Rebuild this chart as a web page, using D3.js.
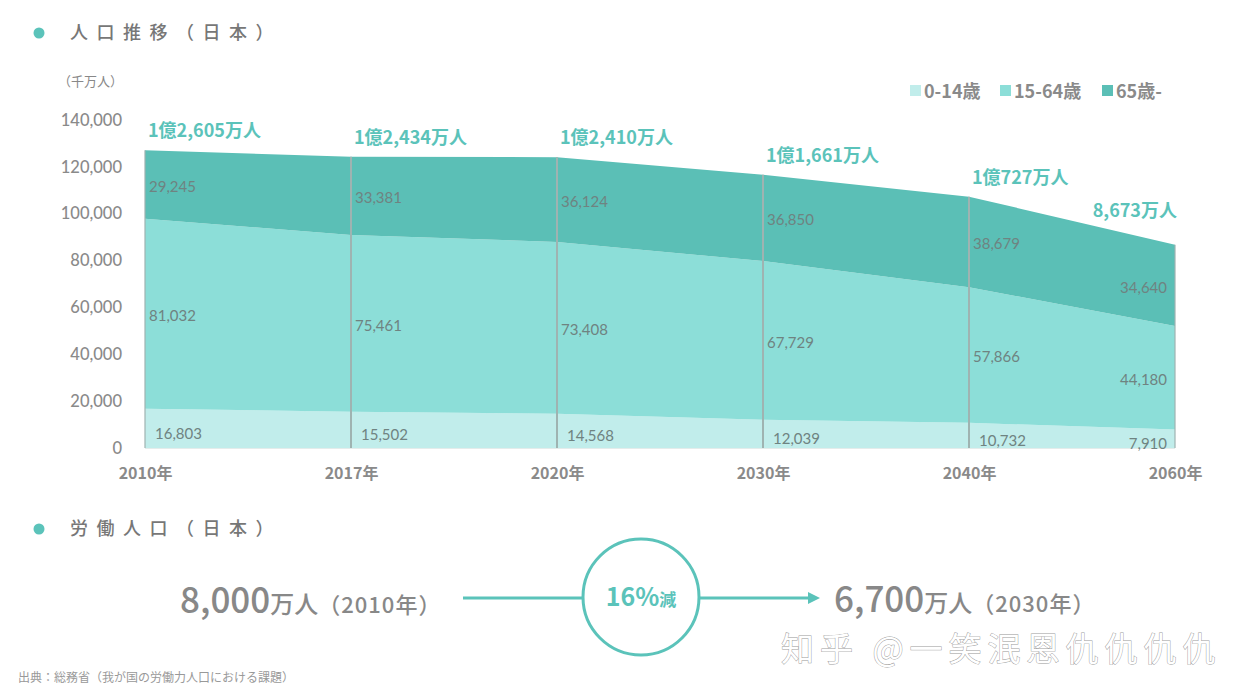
<!DOCTYPE html>
<html><head><meta charset="utf-8">
<script src="https://cdn.jsdelivr.net/npm/d3@7"></script>
<style>
body{margin:0;background:#fff;}
text{font-family:"Noto Sans CJK JP","Noto Sans",sans-serif;}
</style></head>
<body><svg id="c" width="1252" height="693"></svg>
<script>
const years = ["2010年","2017年","2020年","2030年","2040年","2060年"];
const age0_14 = [16803,15502,14568,12039,10732,7910];
const age15_64 = [81032,75461,73408,67729,57866,44180];
const age65 = [29245,33381,36124,36850,38679,34640];
const totalLabels = ["1億2,605万人","1億2,434万人","1億2,410万人","1億1,661万人","1億727万人","8,673万人"];
const seriesNames = ["0-14歳","15-64歳","65歳-"];
const yTicks = [0,20000,40000,60000,80000,100000,120000,140000];
const colors = ["#c1edeb","#8cded8","#5bbfb6"];
const teal = "#5bc3ba";

const svg = d3.select("#c");
const x = d3.scalePoint().domain(years).range([145,1175]);
const y = d3.scaleLinear().domain([0,140000]).range([448,120]);

const rows = years.map((yr,i)=>({year:yr,a:age0_14[i],b:age15_64[i],c:age65[i]}));
const stack = d3.stack().keys(["a","b","c"])(rows);

function header(ty, label){
  svg.append("circle").attr("cx",39).attr("cy",ty).attr("r",5.5).attr("fill",teal);
  svg.append("text").attr("x",70).attr("y",ty+6).attr("font-size",18).attr("font-weight",500)
    .attr("fill","#777").attr("letter-spacing",8.5).text(label);
}
header(33,"人口推移（日本）");
svg.append("text").attr("x",58).attr("y",86).attr("font-size",13).attr("fill","#888").text("（千万人）");

// Areas
const area = d3.area().x(d=>x(d.data.year)).y0(d=>y(d[0])).y1(d=>y(d[1]));
svg.selectAll("path.layer").data(stack).join("path").attr("class","layer")
  .attr("d",area).attr("fill",(d,i)=>colors[i]);

// Vertical lines
years.forEach((yr,i)=>{
  const top = y(age0_14[i]+age15_64[i]+age65[i]);
  svg.append("line").attr("x1",x(yr)).attr("x2",x(yr)).attr("y1",top).attr("y2",y(0))
    .attr("stroke","#9fb3b1").attr("stroke-width",(i==0||i==years.length-1)?1.2:2);
});
svg.append("line").attr("x1",x(years[0])).attr("x2",x(years[years.length-1])).attr("y1",y(0)+0.5).attr("y2",y(0)+0.5)
  .attr("stroke","#e4eceb").attr("stroke-width",1);

// Y axis
const yAxis = d3.axisLeft(y).tickValues(yTicks).tickSize(0).tickPadding(0).tickFormat(d3.format(","));
const yg = svg.append("g").attr("transform","translate(122,0)").call(yAxis);
yg.select(".domain").remove();
yg.selectAll("text").attr("font-size",16.5).attr("font-weight",500).attr("fill","#8a8a8a")
  .style("font-family","Lato, 'Noto Sans CJK JP', sans-serif");

// X axis
const xAxis = d3.axisBottom(x).tickSize(0).tickPadding(0);
const xg = svg.append("g").attr("transform","translate(0,468)").call(xAxis);
xg.select(".domain").remove();
xg.selectAll("text").attr("font-size",16).attr("font-weight",700).attr("fill","#8a8a8a").attr("dy","0.7em");

// Value labels
const vfmt = d3.format(",");
const last = years.length-1;
stack.forEach((layer,li)=>{
  layer.forEach((d,i)=>{
    const mid = (y(d[0])+y(d[1]))/2 + (li==0?5:2);
    const isLast = i==last;
    svg.append("text")
      .attr("x", isLast ? x(d.data.year)-8 : x(d.data.year)+ (li==0?10:4))
      .attr("y", mid).attr("dy","0.35em")
      .attr("text-anchor", isLast?"end":"start")
      .attr("font-size",15).attr("fill","#6f8381")
      .style("font-family","Lato, 'Noto Sans', sans-serif")
      .text(vfmt(d.data[["a","b","c"][li]]));
  });
});

// Total labels
years.forEach((yr,i)=>{
  const top = y(age0_14[i]+age15_64[i]+age65[i]);
  const isLast = i==last;
  svg.append("text").attr("x", isLast? x(yr)+2 : x(yr)+3)
    .attr("y", top - (isLast?28:13))
    .attr("text-anchor", isLast?"end":"start")
    .attr("font-size",18).attr("font-weight",700).attr("fill",teal).text(totalLabels[i]);
});

// Legend
const legX = [910,1000,1102];
seriesNames.forEach((n,i)=>{
  svg.append("rect").attr("x",legX[i]).attr("y",85).attr("width",11).attr("height",11).attr("fill",colors[i]);
  svg.append("text").attr("x",legX[i]+14).attr("y",98).attr("font-size",18).attr("font-weight",700)
    .attr("fill","#8a8a8a").text(n);
});

// Labor section
header(529,"労働人口（日本）");
const t1 = svg.append("text").attr("x",180).attr("y",613).attr("fill","#888").attr("font-weight",500);
t1.append("tspan").attr("font-size",35).text("8,000");
t1.append("tspan").attr("font-size",24).text("万人");
t1.append("tspan").attr("font-size",22).attr("letter-spacing",1).text("（2010年）");

svg.append("line").attr("x1",463).attr("x2",583).attr("y1",598).attr("y2",598).attr("stroke",teal).attr("stroke-width",3);
svg.append("circle").attr("cx",641).attr("cy",597).attr("r",58).attr("fill","none").attr("stroke",teal).attr("stroke-width",3);
svg.append("line").attr("x1",699).attr("x2",808).attr("y1",598).attr("y2",598).attr("stroke",teal).attr("stroke-width",3);
svg.append("path").attr("d","M808,592 L820,598 L808,604 Z").attr("fill",teal);
const t2 = svg.append("text").attr("x",641).attr("y",606).attr("text-anchor","middle").attr("fill",teal).attr("font-weight",700);
t2.append("tspan").attr("font-size",25).text("16%");
t2.append("tspan").attr("font-size",17).text("減");

const t3 = svg.append("text").attr("x",834).attr("y",612).attr("fill","#888").attr("font-weight",500);
t3.append("tspan").attr("font-size",35).text("6,700");
t3.append("tspan").attr("font-size",24).text("万人");
t3.append("tspan").attr("font-size",22).attr("letter-spacing",1).text("（2030年）");

// Watermark
svg.append("text").attr("x",781).attr("y",661).attr("font-size",33).attr("letter-spacing",6).attr("fill","#fff")
  .attr("stroke","#9a9a9a").attr("stroke-width",0.9).attr("paint-order","stroke")
  .text("知乎 @一笑泯恩仇仇仇仇");

// Source
svg.append("text").attr("x",18).attr("y",682).attr("font-size",12).attr("fill","#999").text("出典：総務省（我が国の労働力人口における課題）");
</script></body></html>
